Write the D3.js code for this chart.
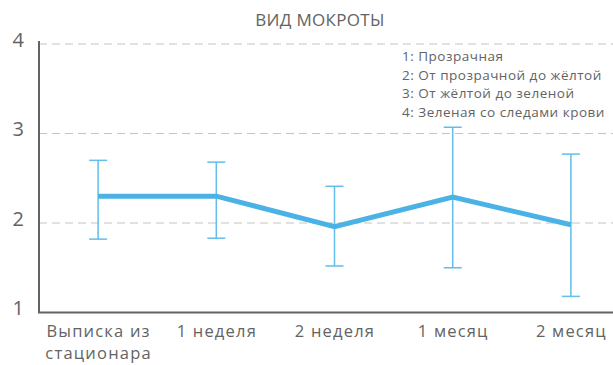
<!DOCTYPE html>
<html>
<head>
<meta charset="utf-8">
<script src="https://cdn.jsdelivr.net/npm/d3@7"></script>
<style>
  html, body { margin: 0; padding: 0; background: #fff; }
  svg { display: block; font-family: "Open Sans", "Noto Sans", sans-serif; }
</style>
</head>
<body>
<svg id="chart" width="613" height="365"></svg>
<script>
// Sputum type score over follow-up, mean with spread
const categories = [["Выписка из", "стационара"], ["1 неделя"], ["2 неделя"], ["1 месяц"], ["2 месяц"]];
const means = [2.30, 2.30, 1.96, 2.29, 1.98];
const upper = [2.70, 2.68, 2.41, 3.07, 2.77];
const lower = [1.82, 1.83, 1.52, 1.50, 1.18];
const yTicks = [1, 2, 3, 4];
const legendLines = ["1: Прозрачная", "2: От прозрачной до жёлтой", "3: От жёлтой до зеленой", "4: Зеленая со следами крови"];
const title = "ВИД МОКРОТЫ";

const svg = d3.select("#chart");
const textColor = "#636363";
const lineColor = "#4BB2E5";
const barColor = "#62BDE9";

const plotLeft = 39, plotRight = 630, plotTop = 44, plotBottom = 312.5;
const keys = categories.map((c, i) => i);

const x = d3.scalePoint().domain(keys).range([plotLeft, plotRight]).padding(0.5);
const y = d3.scaleLinear().domain([1, 4]).range([plotBottom, plotTop]);

// title
svg.append("text")
  .attr("x", 320).attr("y", 26)
  .attr("text-anchor", "middle")
  .attr("font-size", 17)
  .attr("letter-spacing", 0.3)
  .attr("fill", textColor)
  .text(title);

// dashed gridlines
svg.append("g")
  .selectAll("line")
  .data(yTicks.filter(t => t > 1))
  .join("line")
  .attr("x1", plotLeft).attr("x2", 613)
  .attr("y1", d => y(d)).attr("y2", d => y(d))
  .attr("stroke", "#c4c4c4")
  .attr("stroke-width", 1)
  .attr("stroke-dasharray", "8,5");

// y axis labels
const yAxis = d3.axisLeft(y).tickValues(yTicks).tickSize(0).tickPadding(15).tickFormat(d3.format("d"));
const gy = svg.append("g").attr("transform", `translate(${plotLeft},0)`).call(yAxis);
gy.select(".domain").remove();
gy.selectAll("text")
  .attr("font-size", 20)
  .attr("fill", textColor)
  .attr("font-family", "\"Open Sans\", sans-serif")
  .attr("dy", "0.1em");

// x axis labels, one text per line
const xAxis = d3.axisBottom(x).tickSize(0).tickFormat(() => "");
const gx = svg.append("g").attr("transform", `translate(0,${plotBottom})`).call(xAxis);
gx.select(".domain").remove();
gx.selectAll(".tick").each(function(d) {
  const tick = d3.select(this);
  categories[d].forEach((s, j) => {
    tick.append("text")
      .attr("text-anchor", "middle")
      .attr("font-size", 16.5)
      .attr("letter-spacing", 1.2)
      .attr("fill", textColor)
      .attr("font-family", "\"Open Sans\", sans-serif")
      .attr("y", 24 + j * 22.5)
      .text(s);
  });
});

// axis lines
svg.append("path")
  .attr("d", `M${plotLeft},${plotTop - 3}V${plotBottom}H613`)
  .attr("fill", "none")
  .attr("stroke", textColor)
  .attr("stroke-width", 2);

// error bars
const eb = svg.append("g").attr("stroke", barColor).attr("stroke-width", 1.5).attr("fill", "none");
keys.forEach(i => {
  const cx = x(i);
  eb.append("line").attr("x1", cx).attr("x2", cx).attr("y1", y(upper[i])).attr("y2", y(lower[i]));
  eb.append("line").attr("x1", cx - 9).attr("x2", cx + 9).attr("y1", y(upper[i])).attr("y2", y(upper[i]));
  eb.append("line").attr("x1", cx - 9).attr("x2", cx + 9).attr("y1", y(lower[i])).attr("y2", y(lower[i]));
});

// mean line
svg.append("path")
  .datum(keys)
  .attr("d", d3.line().x(i => x(i)).y(i => y(means[i])))
  .attr("fill", "none")
  .attr("stroke", lineColor)
  .attr("stroke-width", 5)
  .attr("stroke-linejoin", "miter");

// scale legend
svg.append("g")
  .selectAll("text")
  .data(legendLines)
  .join("text")
  .attr("x", 402)
  .attr("y", (d, i) => 61 + i * 18.5)
  .attr("font-size", 13.5)
  .attr("letter-spacing", 0.5)
  .attr("fill", textColor)
  .text(d => d);
</script>
</body>
</html>
